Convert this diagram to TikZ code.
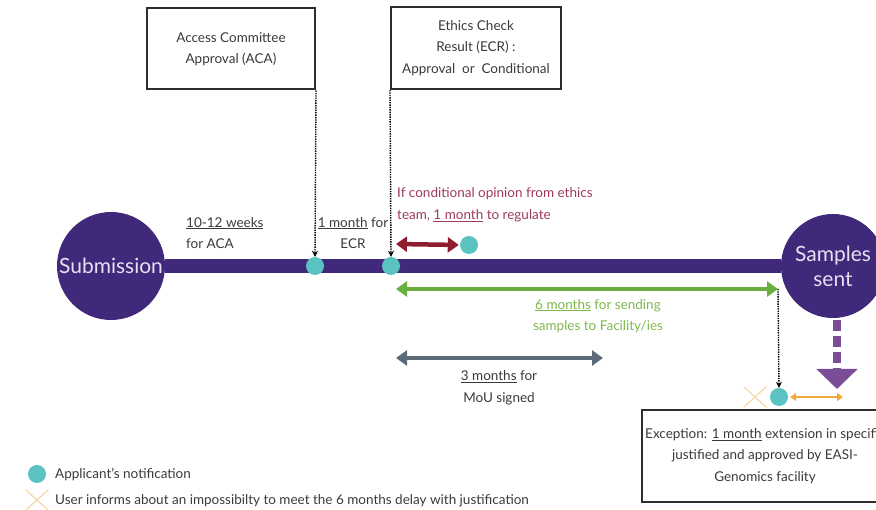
\documentclass[tikz,border=0pt]{standalone}
\usepackage{fontspec}
\setmainfont{Lato}
\usetikzlibrary{arrows.meta,shapes.misc}

\definecolor{barpurple}{HTML}{40287A}
\definecolor{stagetext}{HTML}{E6E0F2}
\definecolor{notiteal}{HTML}{5BC2C2}
\definecolor{ethicsred}{HTML}{8E1E2F}
\definecolor{ethicstext}{HTML}{A03A58}
\definecolor{sendgreen}{HTML}{6AAF3D}
\definecolor{sendtext}{HTML}{7DB84E}
\definecolor{mouslate}{HTML}{5D6B78}
\definecolor{textgray}{HTML}{3A3A3A}
\definecolor{boxgray}{HTML}{2E2E2E}
\definecolor{crossorange}{HTML}{F3CF8E}
\definecolor{delayorange}{HTML}{F2A93B}
\definecolor{arrowpurple}{HTML}{7A4E97}

\begin{document}
\begin{tikzpicture}[x=1pt, y=-1pt, >=stealth, font=\fontsize{13.5}{21.5}\selectfont]
        \tikzstyle{box}=[draw=boxgray, line width=2pt, align=center, text=textgray, inner sep=0pt]
        \tikzstyle{dot}=[circle, fill=notiteal, minimum size=18pt, inner sep=0pt]
        \tikzstyle{stage}=[circle, fill=barpurple, text=stagetext, inner sep=0pt, align=center, font=\fontsize{21}{25}\selectfont]
        \tikzstyle{link}=[black, densely dotted, line width=1.4pt, -{Stealth[length=6pt,width=6pt]}]
        \tikzstyle{span}=[line width=4.5pt, {Triangle[length=11pt,width=15pt]}-{Triangle[length=11pt,width=15pt]}]
        \tikzstyle{note}=[text=textgray, inner sep=0pt]
        \tikzstyle{cross}=[cross out, draw=crossorange, line width=0.9pt, minimum width=22pt, minimum height=20pt, inner sep=0pt]

        \useasboundingbox (0,0) rectangle (876,510);
        \clip (0,0) rectangle (876,510);

        \node[stage, minimum size=108pt](sub) at (111,266){Submission};
        \node[stage, minimum size=104pt](sent) at (833,266){Samples\\sent};

        \node[box, minimum width=168pt, minimum height=81pt](aca) at (231,49){Access Committee\\Approval (ACA)};
        \node[box, minimum width=170pt, minimum height=82pt](ecr) at (476,48){Ethics Check\\Result (ECR) :\\Approval\ \ or\ \ Conditional};

        \draw[barpurple, line width=14pt] (sub.east) -- (sent.west);

        \node[dot](n1) at (315,266){};
        \node[dot](n2) at (391,266){};
        \node[dot](n3) at (469,245){};
        \node[dot](n4) at (779,397){};

        \draw[link] (aca.south east) -- (n1.north);
        \draw[link] (ecr.south west) -- (n2.north);

        \node[note, anchor=west, align=left](aca time) at (186,233){\underline{10-12 weeks}\\for ACA};
        \node[note, align=center](ecr time) at (353,233){\underline{1 month} for\\ECR};

        % conditional opinion
        \node[note, anchor=west, align=left, text=ethicstext](cond) at (397,205){If conditional opinion from ethics\\team, \underline{1 month} to regulate};
        \coordinate (r1) at (396,244);
        \draw[span, ethicsred, shorten >=1pt] (r1) -- (n3.west);

        % sending samples
        \coordinate (g1) at (396,289);
        \coordinate (g2) at (778,289);
        \draw[span, sendgreen] (g1) -- (g2);
        \node[note, align=center, text=sendtext](send time) at (598,316){\underline{6 months} for sending\\samples to Facility/ies};

        % MoU
        \coordinate (m1) at (396,358);
        \coordinate (m2) at (603,358);
        \draw[span, mouslate] (m1) -- (m2);
        \node[note, align=center](mou time) at (499,388){\underline{3 months} for\\MoU signed};

        % exception
        \draw[link] (g2) -- (n4.north);
        \node[cross](x1) at (755,397){};
        \coordinate (o2) at (843,397);
        \draw[delayorange, line width=1.8pt, {Triangle[length=6pt,width=8pt]}-{Triangle[length=6pt,width=8pt]}, shorten <=2pt] (n4.east) -- (o2);

        \coordinate (p1) at (837,320);
        \coordinate (p2) at (837,389);
        \draw[arrowpurple, line width=8pt, dash pattern=on 11pt off 5pt, -{Triangle[length=20pt,width=40pt]}] (p1) -- (p2);

        \node[box, minimum width=246pt, minimum height=92pt](exc) at (765,456){Exception: \underline{1 month} extension in specific\\justified and approved by EASI-\\Genomics facility};

        % legend
        \node[dot](k1) at (37,474){};
        \node[note, anchor=west](l1) at (55,474){Applicant's notification};
        \node[cross](k2) at (37,500){};
        \node[note, anchor=west](l2) at (55,501){User informs about an impossibilty to meet the 6 months delay with justification};

\end{tikzpicture}
\end{document}
